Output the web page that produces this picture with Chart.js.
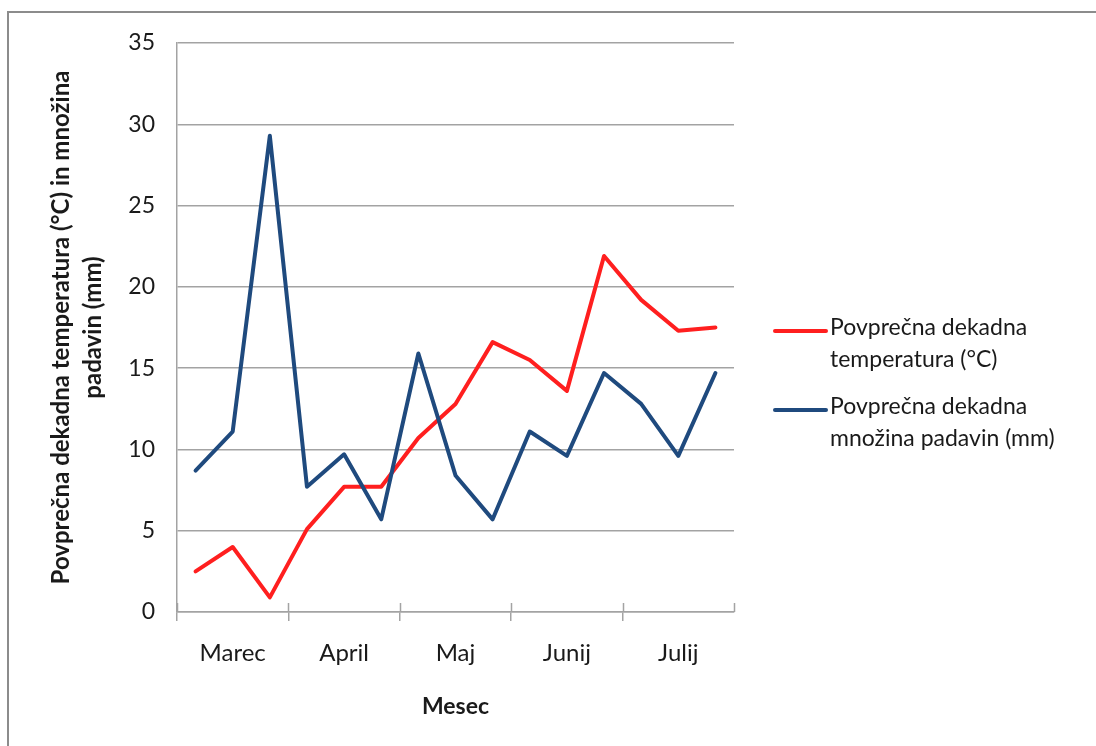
<!DOCTYPE html>
<html>
<head>
<meta charset="utf-8">
<script src="https://cdn.jsdelivr.net/npm/chart.js@4/dist/chart.umd.min.js"></script>
<style>
  html, body { margin: 0; padding: 0; background: #fff; overflow: hidden; }
  #wrap { position: relative; width: 1096px; height: 746px; }
  #frame { position: absolute; left: 7px; top: 11px; width: 1200px; height: 900px;
           border-left: 2px solid #8c8c8c; border-top: 2px solid #8c8c8c; pointer-events: none; }
  canvas { position: absolute; left: 0; top: 0; }
</style>
</head>
<body>
<div id="wrap">
  <canvas id="c" width="1096" height="746"></canvas>
  <div id="frame"></div>
</div>
<script>
// Meseci in dekade
const months = ['Marec', 'April', 'Maj', 'Junij', 'Julij'];
const dekade = [1, 2, 3];

// Povprečna dekadna temperatura (°C)
const temperatura = [2.5, 4.0, 0.9, 5.1, 7.7, 7.7, 10.7, 12.8, 16.6, 15.5, 13.6, 21.9, 19.2, 17.3, 17.5];
// Povprečna dekadna množina padavin (mm)
const padavine = [8.7, 11.1, 29.3, 7.7, 9.7, 5.7, 15.9, 8.4, 5.7, 11.1, 9.6, 14.7, 12.8, 9.6, 14.7];

const yTicks = [0, 5, 10, 15, 20, 25, 30, 35];

const seriesNames = [
  ['Povprečna dekadna', 'temperatura (°C)'],
  ['Povprečna dekadna', 'množina padavin (mm)']
];
const seriesColors = ['#ff1f1f', '#1f4a7e'];

const categories = [];
months.forEach(m => dekade.forEach(d => categories.push(m + ' ' + d + '. dekada')));

const FONT = 'Lato, "Open Sans", sans-serif';
const AXIS_GRAY = '#a3a3a3';

// Legend drawn at the right side, with two-line labels
const sideLegend = {
  id: 'sideLegend',
  afterDraw(chart) {
    const ctx = chart.ctx;
    ctx.save();
    ctx.font = '23px ' + FONT;
    ctx.textBaseline = 'middle';
    ctx.fillStyle = '#1a1a1a';
    const x0 = 775, x1 = 826, tx = 830;
    const starts = [330, 409];
    chart.data.datasets.forEach((ds, i) => {
      const y = starts[i];
      ctx.strokeStyle = ds.borderColor;
      ctx.lineWidth = 4;
      ctx.lineCap = 'round';
      ctx.beginPath();
      ctx.moveTo(x0, y + 1);
      ctx.lineTo(x1, y + 1);
      ctx.stroke();
      const lines = Array.isArray(ds.label) ? ds.label : [ds.label];
      lines.forEach((t, k) => ctx.fillText(t, tx, y - 2 + k * 32));
    });
    ctx.restore();
  }
};

// Category-group tick marks crossing the x axis
const groupTicks = {
  id: 'groupTicks',
  afterDatasetsDraw(chart) {
    const x = chart.scales.x;
    const ctx = chart.ctx;
    const half = (x.getPixelForValue(1) - x.getPixelForValue(0)) / 2;
    ctx.save();
    ctx.strokeStyle = AXIS_GRAY;
    ctx.lineWidth = 1.5;
    for (let i = 0; i <= categories.length; i += 3) {
      const px = Math.round(x.getPixelForValue(i) - half) + 0.5;
      ctx.beginPath();
      ctx.moveTo(px, x.top - 9);
      ctx.lineTo(px, x.top);
      ctx.stroke();
    }
    ctx.restore();
  }
};

new Chart(document.getElementById('c'), {
  type: 'line',
  data: {
    labels: categories,
    datasets: [
      { label: seriesNames[0], data: temperatura, borderColor: seriesColors[0], backgroundColor: seriesColors[0],
        borderWidth: 4, pointRadius: 0, tension: 0, borderJoinStyle: 'round', borderCapStyle: 'round', order: 2 },
      { label: seriesNames[1], data: padavine, borderColor: seriesColors[1], backgroundColor: seriesColors[1],
        borderWidth: 4, pointRadius: 0, tension: 0, borderJoinStyle: 'round', borderCapStyle: 'round', order: 1 }
    ]
  },
  options: {
    responsive: false,
    animation: false,
    events: [],
    layout: { padding: { top: 43, right: 362, bottom: 0, left: 0 } },
    plugins: { legend: { display: false }, tooltip: { enabled: false } },
    scales: {
      x: {
        type: 'category',
        offset: true,
        afterFit(s) { s.height = 134; },
        border: { display: true, color: AXIS_GRAY, width: 1.5 },
        grid: {
          offset: true,
          drawOnChartArea: false,
          drawTicks: true,
          tickLength: 9,
          lineWidth: 1.5,
          color: ctx => (ctx.index % 3 === 0 ? AXIS_GRAY : 'rgba(0,0,0,0)')
        },
        ticks: {
          autoSkip: false,
          maxRotation: 0,
          padding: 18,
          color: '#1a1a1a',
          font: { family: FONT, size: 24 },
          callback: (v, i) => (i % 3 === 1 ? months[Math.floor(i / 3)] : '')
        },
        title: {
          display: true,
          text: 'Mesec',
          color: '#1a1a1a',
          font: { family: FONT, size: 23, weight: 'bold' },
          padding: { top: 0, bottom: 26 }
        }
      },
      y: {
        min: yTicks[0],
        max: yTicks[yTicks.length - 1],
        afterFit(s) { s.width = 177; },
        afterBuildTicks(s) { s.ticks = yTicks.map(v => ({ value: v })); },
        border: { display: true, color: AXIS_GRAY, width: 1.5 },
        grid: { color: AXIS_GRAY, lineWidth: 1.5, drawTicks: false },
        ticks: {
          padding: 22,
          color: '#1a1a1a',
          font: { family: FONT, size: 23 }
        },
        title: {
          display: true,
          text: ['Povprečna dekadna temperatura (°C) in množina', 'padavin (mm)'],
          color: '#1a1a1a',
          font: { family: FONT, size: 24, weight: 'bold', lineHeight: 1.3 },
          padding: { top: 46, bottom: 0 }
        }
      }
    }
  },
  plugins: [sideLegend, groupTicks]
});
</script>
</body>
</html>
